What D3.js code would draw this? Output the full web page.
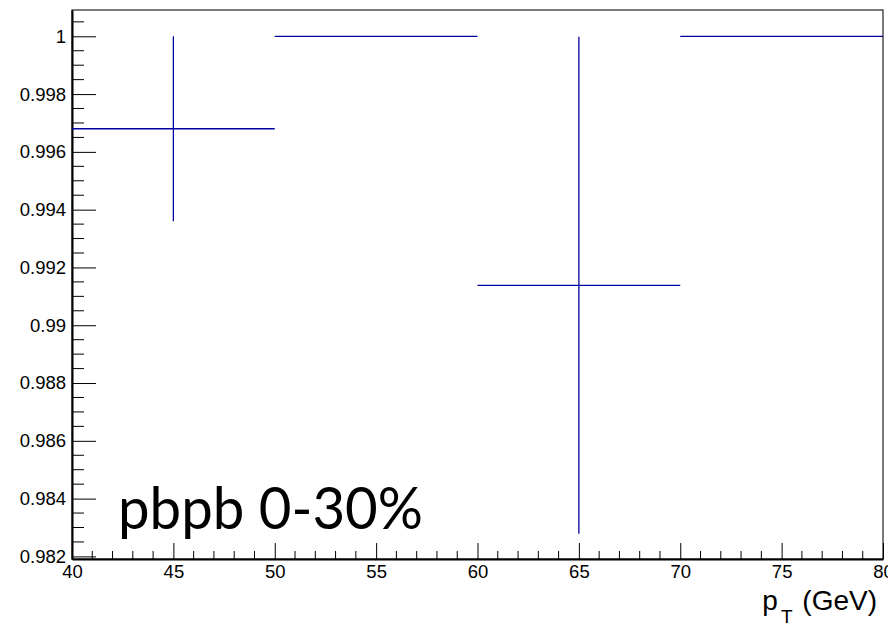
<!DOCTYPE html>
<html>

<head>
    <title>pbpb 0-30%</title>
    <meta charset="utf-8">
    <style>
        body {
            margin: 0;
            background: #fff;
        }

        svg {
            display: block;
            font-family: "Liberation Sans", Arial, sans-serif;
        }

        .axis text {
            font-size: 18.5px;
            fill: #000;
        }

        .axis path,
        .axis line {
            stroke: #000;
        }
    </style>
</head>

<body>
    <svg id="chart" width="888" height="627"></svg>

    <script src="https://d3js.org/d3.v7.min.js"></script>
    <script>
        // bins (pT in GeV)
        const binLow = [40, 50, 60, 70];
        const binHigh = [50, 60, 70, 80];
        const binCenter = [45, 55, 65, 75];
        // ratio per bin and its error
        const values = [0.9968, 1.0, 0.99138, 1.0];
        const errors = [0.0032, 0, 0.0086, 0];

        const xMajorTicks = [40, 45, 50, 55, 60, 65, 70, 75, 80];
        const yMajorTicks = [0.982, 0.984, 0.986, 0.988, 0.99, 0.992, 0.994, 0.996, 0.998, 1.0];

        const label = "pbpb 0-30%";

        const svg = d3.select('#chart');

        // frame
        const frame = { left: 72, right: 883, top: 10, bottom: 559 };

        const x = d3.scaleLinear().domain([40, 80]).range([frame.left, frame.right]);
        const y = d3.scaleLinear().domain([0.98191, 1.00091]).range([frame.bottom, frame.top]);

        // frame box
        svg.append('rect')
            .attr('x', frame.left).attr('y', frame.top)
            .attr('width', frame.right - frame.left).attr('height', frame.bottom - frame.top)
            .attr('fill', 'none')
            .attr('stroke', '#222')
            .attr('stroke-width', 1.2);

        // minor ticks
        const xMinor = d3.range(40, 80.001, 1).filter(v => v % 5 !== 0);
        const yMinor = d3.range(0.982, 1.0009, 0.0005).filter(v => Math.abs(v * 500 - Math.round(v * 500)) > 1e-6);

        svg.append('g').selectAll('line')
            .data(xMinor)
            .join('line')
            .attr('x1', d => x(d)).attr('x2', d => x(d))
            .attr('y1', frame.bottom).attr('y2', frame.bottom - 8)
            .attr('stroke', '#000').attr('stroke-width', 1);

        svg.append('g').selectAll('line')
            .data(yMinor)
            .join('line')
            .attr('x1', frame.left).attr('x2', frame.left + 12)
            .attr('y1', d => y(d)).attr('y2', d => y(d))
            .attr('stroke', '#000').attr('stroke-width', 1);

        // axes, ticks pointing inwards
        const xAxis = d3.axisBottom(x)
            .tickValues(xMajorTicks)
            .tickSizeInner(-16)
            .tickSizeOuter(0)
            .tickPadding(6)
            .tickFormat(d3.format('d'));

        const yAxis = d3.axisLeft(y)
            .tickValues(yMajorTicks)
            .tickSizeInner(-24)
            .tickSizeOuter(0)
            .tickPadding(6)
            .tickFormat(d3.format('.3~f'));

        const gx = svg.append('g')
            .attr('class', 'axis')
            .attr('transform', `translate(0,${frame.bottom})`)
            .call(xAxis);
        gx.select('.domain').attr('stroke-width', 2);
        gx.attr('font-family', null).attr('font-size', null);

        const gy = svg.append('g')
            .attr('class', 'axis')
            .attr('transform', `translate(${frame.left},0)`)
            .call(yAxis);
        gy.select('.domain').attr('stroke-width', 2);
        gy.attr('font-family', null).attr('font-size', null);

        // histogram with error bars
        const bins = values.map((v, i) => ({
            lo: binLow[i], hi: binHigh[i], c: binCenter[i], v: v, e: errors[i]
        }));

        const g = svg.append('g')
            .attr('stroke', '#0000a0')
            .attr('stroke-width', 1.3);

        g.selectAll('line.h')
            .data(bins)
            .join('line')
            .attr('class', 'h')
            .attr('x1', d => x(d.lo)).attr('x2', d => x(d.hi))
            .attr('y1', d => y(d.v)).attr('y2', d => y(d.v));

        g.selectAll('line.v')
            .data(bins.filter(d => d.e > 0))
            .join('line')
            .attr('class', 'v')
            .attr('x1', d => x(d.c)).attr('x2', d => x(d.c))
            .attr('y1', d => y(d.v - d.e)).attr('y2', d => y(d.v + d.e));

        // big label
        svg.append('text')
            .attr('x', 118)
            .attr('y', 529)
            .attr('font-family', 'Lato, "Open Sans", sans-serif')
            .attr('font-size', 58)
            .attr('textLength', 305)
            .attr('lengthAdjust', 'spacingAndGlyphs')
            .attr('fill', '#000')
            .text(label);

        // x axis title
        const xt = svg.append('text')
            .attr('x', 877)
            .attr('y', 610)
            .attr('text-anchor', 'end')
            .attr('font-size', 28)
            .attr('fill', '#000');
        xt.append('tspan').text('p');
        xt.append('tspan').attr('font-size', 19).attr('dx', 3).attr('dy', 13).text('T');
        xt.append('tspan').attr('dx', 2).attr('dy', -13).text(' (GeV)');
    </script>
</body>

</html>
